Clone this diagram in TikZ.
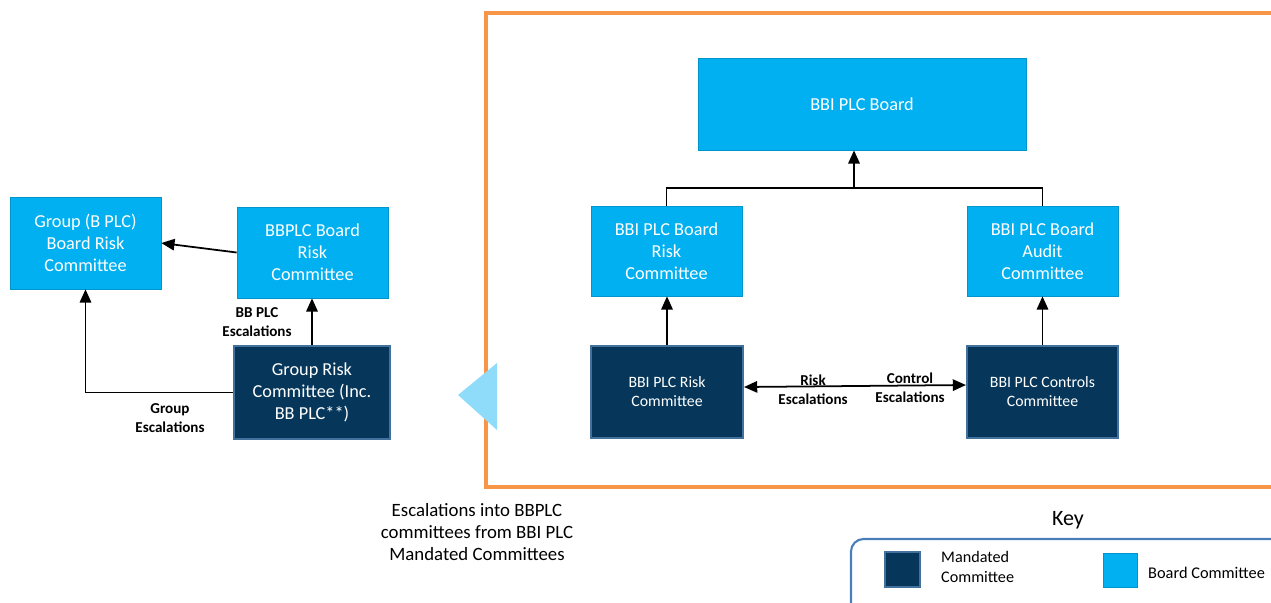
\documentclass[tikz,border=0pt]{standalone}
\usepackage{fontspec}
\setmainfont{Carlito}
\usetikzlibrary{arrows.meta}

\definecolor{boardblue}{HTML}{00B0F0}
\definecolor{mandblue}{HTML}{06375A}
\definecolor{mandedge}{HTML}{41719C}
\definecolor{frameorange}{HTML}{F79646}
\definecolor{keyedge}{HTML}{4A7EBB}
\definecolor{pointer}{HTML}{8EDCFA}

\tikzset{
  board/.style={draw=boardblue!85!black, line width=0.4pt, fill=boardblue, text=white,
    align=center, inner sep=0pt, font=\fontsize{10.4}{12.5}\selectfont},
  mandated/.style={draw=mandedge, line width=1.2pt, fill=mandblue, text=white,
    align=center, inner sep=0pt, font=\fontsize{9}{10.8}\selectfont},
  tip/.tip={Triangle[width=6.5pt,length=7.5pt]},
  esc/.style={-tip, line width=1pt},
  esclabel/.style={font=\bfseries\fontsize{8.6}{10.8}\selectfont, align=center},
}

\begin{document}
\begin{tikzpicture}[x=0.02cm, y=-0.02cm]
  \useasboundingbox (0,0) rectangle (1271,602);
  \clip (0,0) rectangle (1271,602);

  % BB PLC side
  \node[board, minimum width=3.02cm, minimum height=1.84cm] (grpboard) at (85.5,243)
    {Group (B PLC)\\Board Risk\\Committee};
  \node[board, minimum width=3.02cm, minimum height=1.82cm] (bbplcrisk) at (312.5,252.5)
    {BBPLC Board\\Risk\\Committee};
  \node[mandated, minimum width=3.12cm, minimum height=1.86cm, font=\fontsize{10.4}{12.5}\selectfont] (grprisk) at (312,392.5)
    {Group Risk\\Committee (Inc.\\BB PLC**)};

  \draw[esc] (bbplcrisk.west) -- (grpboard.east);
  \draw[esc] (grprisk.north) -- (grprisk.north |- bbplcrisk.south);
  \node[esclabel] at (257,322) {BB PLC\\Escalations};
  \draw[esc] (grprisk.west) -| (grpboard.south);
  \node[esclabel] at (170,418) {Group\\Escalations};

  % BBI PLC frame
  \draw[frameorange, line width=2.3pt] (1290,13) -- (486,13) -- (486,487) -- (1290,487);
  \fill[pointer] (458,395) -- (497,363) -- (497,430) -- cycle;

  \node[board, minimum width=6.56cm, minimum height=1.84cm, font=\fontsize{10.4}{12}\selectfont] (bbiboard) at (862,104)
    {BBI PLC Board};
  \node[board, minimum width=3.02cm, minimum height=1.8cm] (bbirisk) at (666.5,251)
    {BBI PLC Board\\Risk\\Committee};
  \node[board, minimum width=3.02cm, minimum height=1.8cm] (bbiaudit) at (1042.5,251)
    {BBI PLC Board\\Audit\\Committee};
  \node[mandated, minimum width=3.04cm, minimum height=1.84cm] (bbiriskc) at (667,392)
    {BBI PLC Risk\\Committee};
  \node[mandated, minimum width=3.02cm, minimum height=1.84cm] (bbictrl) at (1042.5,392)
    {BBI PLC Controls\\Committee};

  \coordinate (split) at (854,188);
  \draw[line width=1pt] (bbirisk.north) |- (split) -| (bbiaudit.north);
  \draw[esc] (split) -- (split |- bbiboard.south);
  \draw[esc] (bbiriskc.north) -- (bbiriskc.north |- bbirisk.south);
  \draw[esc] (bbictrl.north) -- (bbictrl.north |- bbiaudit.south);

  % escalations between mandated committees
  \draw[tip-tip, line width=1pt] ([yshift=0.1cm]bbiriskc.east) -- ([yshift=0.14cm]bbictrl.west);
  \node[esclabel] at (813,390) {Risk\\Escalations};
  \node[esclabel] at (910,388) {Control\\Escalations};

  % caption
  \node[align=center, font=\fontsize{10.7}{12.5}\selectfont] (caption) at (477,532)
    {Escalations into BBPLC\\committees from BBI PLC\\Mandated Committees};

  % Key
  \node[font=\fontsize{12.5}{14}\selectfont] (keytitle) at (1068,520) {Key};
  \draw[keyedge, line width=1.2pt, rounded corners=0.25cm] (1290,539) -- (851,539) -- (851,640);
  \node[mandated, minimum width=0.7cm, minimum height=0.7cm] (keymand) at (902.5,569.5) {};
  \node[anchor=west, align=left, font=\fontsize{9.2}{11}\selectfont] at (935,567) {Mandated\\Committee};
  \node[board, minimum width=0.68cm, minimum height=0.68cm] (keyboard) at (1120,570) {};
  \node[anchor=west, font=\fontsize{9.3}{10}\selectfont] at (1142,573) {Board Committee};
\end{tikzpicture}
\end{document}
